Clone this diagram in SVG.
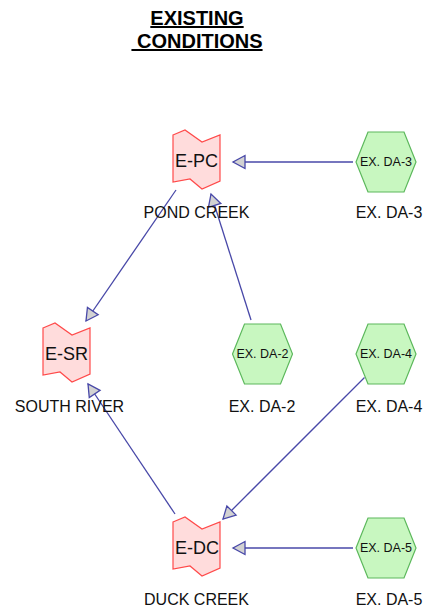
<svg xmlns="http://www.w3.org/2000/svg" width="424" height="611" viewBox="0 0 424 611">
  <style>
    .title { font-family: "Liberation Sans", Arial, sans-serif; font-size: 20px; font-weight: bold; fill: #000; text-anchor: middle; text-decoration: underline; white-space: pre; }
    .reach { fill: #ffdcdc; stroke: #ff4a4a; stroke-width: 1.2; }
    .area { fill: #c8f7c0; stroke: #5cb85c; stroke-width: 1.2; }
    .inner { font-family: "Liberation Sans", Arial, sans-serif; font-size: 18px; fill: #111; text-anchor: middle; }
    .small { font-family: "Liberation Sans", Arial, sans-serif; font-size: 12.5px; fill: #111; text-anchor: middle; }
    .label { font-family: "Liberation Sans", Arial, sans-serif; font-size: 16px; fill: #111; text-anchor: middle; }
    .link { stroke: #4848a8; stroke-width: 1.3; fill: none; marker-end: url(#head); }
  </style>
  <defs>
    <marker id="head" markerUnits="userSpaceOnUse" markerWidth="16" markerHeight="16" refX="12" refY="6.5" orient="auto" overflow="visible">
      <path d="M0,0 L12,6.5 L0,13 Z" fill="#d2d2d2" stroke="#4848a8" stroke-width="1.3" stroke-linejoin="miter"/>
    </marker>
    <!-- reach outline: wavy top and bottom edge -->
    <path id="reachShape" d="M0,5 L12,0 L29,12 L47,5 L47,51 L29,59 L17,49 L0,52 Z"/>
    <!-- drainage area hexagon centred on the origin -->
    <path id="hexShape" d="M-30,0 L-18,-30 L18,-30 L30,0 L18,30 L-18,30 Z"/>
  </defs>

  <g id="title">
    <text class="title" x="197" y="25">EXISTING</text>
    <text class="title" x="197" y="48" xml:space="preserve"> CONDITIONS</text>
  </g>

  <g id="connectors">
    <line class="link" x1="353" y1="162" x2="233" y2="162"/>
    <line class="link" x1="251" y1="320" x2="211" y2="194"/>
    <line class="link" x1="176" y1="190" x2="86" y2="321"/>
    <line class="link" x1="175" y1="514" x2="88" y2="384"/>
    <line class="link" x1="364.5" y1="377.5" x2="223" y2="519"/>
    <line class="link" x1="353" y1="548" x2="233" y2="548"/>
  </g>

  <g id="E-PC">
    <use href="#reachShape" class="reach" transform="translate(173,130)"/>
    <text class="inner" x="196.5" y="166.5">E-PC</text>
    <text class="label" x="196.5" y="218">POND CREEK</text>
  </g>

  <g id="E-SR">
    <use href="#reachShape" class="reach" transform="translate(43,323)"/>
    <text class="inner" x="66.5" y="360">E-SR</text>
    <text class="label" x="69.5" y="412">SOUTH RIVER</text>
  </g>

  <g id="E-DC">
    <use href="#reachShape" class="reach" transform="translate(173,517)"/>
    <text class="inner" x="197" y="554">E-DC</text>
    <text class="label" x="196.5" y="605">DUCK CREEK</text>
  </g>

  <g id="EX-DA-3">
    <use href="#hexShape" class="area" transform="translate(386,162)"/>
    <text class="small" x="386" y="166">EX. DA-3</text>
    <text class="label" x="389" y="218">EX. DA-3</text>
  </g>

  <g id="EX-DA-2">
    <use href="#hexShape" class="area" transform="translate(262.5,354)"/>
    <text class="small" x="262.5" y="358">EX. DA-2</text>
    <text class="label" x="262" y="412">EX. DA-2</text>
  </g>

  <g id="EX-DA-4">
    <use href="#hexShape" class="area" transform="translate(386,354)"/>
    <text class="small" x="386" y="358">EX. DA-4</text>
    <text class="label" x="389" y="412">EX. DA-4</text>
  </g>

  <g id="EX-DA-5">
    <use href="#hexShape" class="area" transform="translate(386,548)"/>
    <text class="small" x="386" y="552">EX. DA-5</text>
    <text class="label" x="389" y="605">EX. DA-5</text>
  </g>
</svg>
